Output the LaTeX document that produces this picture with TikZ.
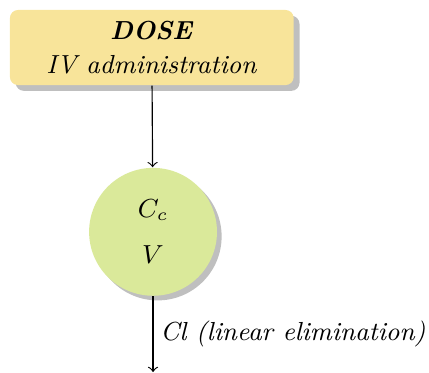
\documentclass[tikz,border=0pt]{standalone}
\usepackage{amsmath, amssymb}
\usetikzlibrary{positioning, shadows}

\definecolor{doseyellow}{HTML}{F8E49A}
\definecolor{compgreen}{HTML}{DAE99A}

\tikzset{
    every node/.style={font=\fontsize{9pt}{11pt}\selectfont},
    dosebox/.style={draw=none, fill=doseyellow, rounded corners=2.8pt,
        minimum width=3.44cm, minimum height=0.91cm, align=center,
        drop shadow={shadow xshift=2pt, shadow yshift=-2pt, fill=black!25, opacity=1}},
    compartment/.style={circle, draw=none, fill=compgreen, minimum size=1.55cm,
        align=center, inner sep=0pt,
        drop shadow={shadow xshift=1.6pt, shadow yshift=-1.6pt, fill=black!25, opacity=1}}
}

\begin{document}
\begin{tikzpicture}
    \useasboundingbox (0,0) rectangle (5.2,-4.51);

    % Dose
    \node[dosebox] (dose) at (1.84,-0.576) {\textbf{\textit{DOSE}}\\[1pt] \textit{IV administration}};

    % Central compartment
    \node[compartment] (central) at (1.855,-2.81) {$C_c$\\[5pt] $V$};
    \coordinate (out) at (1.855,-4.51);

    % Arrows
    \draw[->] (dose) -- (central);
    \draw[->] (central) -- (out) node[midway, right, xshift=-1pt] {\textit{Cl (linear elimination)}};
\end{tikzpicture}
\end{document}
